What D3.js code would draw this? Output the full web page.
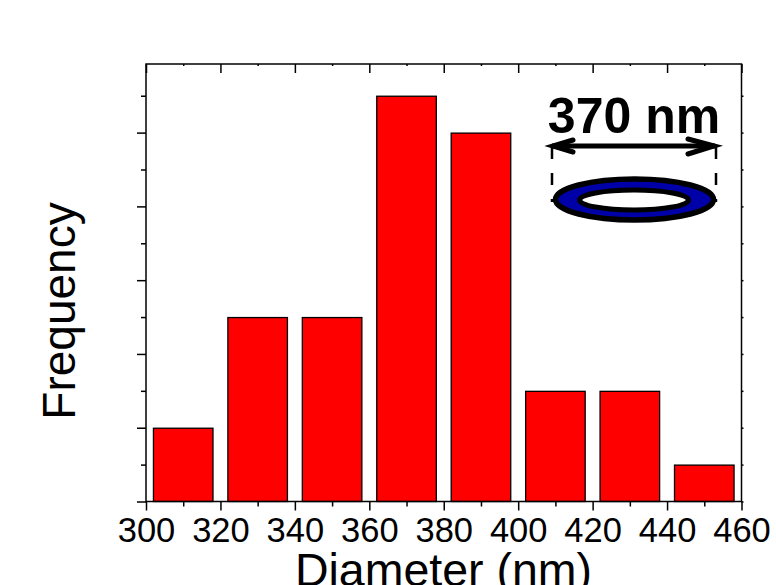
<!DOCTYPE html>
<head>
  <meta charset="utf-8">
<style>
  html, body { margin: 0; padding: 0; background: white; overflow: hidden; }
  svg { display: block; }
  text { font-family: "Liberation Sans", Arial, sans-serif; fill: black; }
</style>
</head>
<body>
  <svg width="776" height="585"></svg>
</body>
<script src="https://d3js.org/d3.v7.min.js"></script>
<script>
// histogram bins
var binCenters = [310, 330, 350, 370, 390, 410, 430, 450];
var counts = [2, 5, 5, 11, 10, 3, 3, 1];
var binWidth = 16;
var xTicks = [300, 320, 340, 360, 380, 400, 420, 440, 460];
var xMinor = [310, 330, 350, 370, 390, 410, 430, 450];
var yTicks = [0, 2, 4, 6, 8, 10];
var yMinor = [1, 3, 5, 7, 9, 11];

var svg = d3.select("svg");
var left = 146, right = 741.5, top_ = 64, bottom = 501.5;

var x = d3.scaleLinear().domain([300, 460]).range([left, right]);
var y = d3.scaleLinear().domain([0, 11.86]).range([bottom, top_]);

// bars
svg.selectAll(".bar")
  .data(counts)
  .enter().append("rect")
  .attr("class", "bar")
  .attr("x", (d, i) => x(binCenters[i] - binWidth / 2))
  .attr("width", x(binWidth) - x(0))
  .attr("y", d => y(d) + 0.5)
  .attr("height", d => y(0) - y(d) - 0.5)
  .attr("fill", "#ff0000")
  .attr("stroke", "black")
  .attr("stroke-width", 1.3);

// frame
svg.append("rect")
  .attr("x", left).attr("y", top_)
  .attr("width", right - left).attr("height", bottom - top_)
  .attr("fill", "none").attr("stroke", "black").attr("stroke-width", 1.5);

function styleAxis(g) {
  g.selectAll("line").attr("stroke", "black").attr("stroke-width", 1.5);
  g.select(".domain").remove();
}

// bottom axis
svg.append("g")
  .attr("transform", `translate(0,${bottom})`)
  .call(d3.axisBottom(x).tickValues(xTicks).tickSize(9).tickPadding(7).tickFormat(d3.format("d")))
  .call(styleAxis)
  .selectAll("text").style("font-size", "34.5px").attr("fill", "black")
  .style("font-family", '"Liberation Sans"');

svg.append("g")
  .attr("transform", `translate(0,${bottom})`)
  .call(d3.axisBottom(x).tickValues(xMinor).tickSize(5).tickFormat(""))
  .call(styleAxis);

// left axis
svg.append("g")
  .attr("transform", `translate(${left},0)`)
  .call(d3.axisLeft(y).tickValues(yTicks).tickSize(9).tickFormat(""))
  .call(styleAxis);

svg.append("g")
  .attr("transform", `translate(${left},0)`)
  .call(d3.axisLeft(y).tickValues(yMinor).tickSize(5).tickFormat(""))
  .call(styleAxis);

// top axis, ticks point inward
svg.append("g")
  .attr("transform", `translate(0,${top_})`)
  .call(d3.axisBottom(x).tickValues(xTicks).tickSize(9).tickFormat(""))
  .call(styleAxis);

svg.append("g")
  .attr("transform", `translate(0,${top_})`)
  .call(d3.axisBottom(x).tickValues(xMinor).tickSize(2).tickFormat(""))
  .call(styleAxis);

// right axis
svg.append("g")
  .attr("transform", `translate(${right},0)`)
  .call(d3.axisRight(y).tickValues(yTicks).tickSize(2).tickFormat(""))
  .call(styleAxis);

svg.append("g")
  .attr("transform", `translate(${right},0)`)
  .call(d3.axisRight(y).tickValues(yMinor).tickSize(2).tickFormat(""))
  .call(styleAxis);

// axis titles
svg.append("text")
  .attr("x", 443.5).attr("y", 586)
  .attr("text-anchor", "middle")
  .style("font-size", "46.5px")
  .text("Diameter (nm)");

svg.append("text")
  .attr("transform", "translate(75,311) rotate(-90)")
  .attr("text-anchor", "middle")
  .style("font-size", "46px")
  .text("Frequency");

// ring inset
var inset = svg.append("g");

inset.append("text")
  .attr("x", 634).attr("y", 133)
  .attr("text-anchor", "middle")
  .style("font-size", "50px")
  .style("font-weight", "bold")
  .text("370 nm");

inset.append("path")
  .attr("d", "M552,146H715")
  .attr("stroke", "black").attr("stroke-width", 5).attr("fill", "none");

inset.append("path")
  .attr("d", "M573,140L553,146L573,152M688,139L714,146L688,154")
  .attr("stroke", "black").attr("stroke-width", 5)
  .attr("stroke-linecap", "round").attr("fill", "none");

inset.append("path")
  .attr("d", "M552,147V202M716,147V202")
  .attr("stroke", "black").attr("stroke-width", 2.5)
  .attr("stroke-dasharray", "12,14").attr("fill", "none");

inset.append("ellipse")
  .attr("cx", 634.5).attr("cy", 199.5).attr("rx", 79).attr("ry", 20.5)
  .attr("fill", "#0000a8").attr("stroke", "black").attr("stroke-width", 5.5);

inset.append("ellipse")
  .attr("cx", 634).attr("cy", 200).attr("rx", 54.5).attr("ry", 10)
  .attr("fill", "white").attr("stroke", "black").attr("stroke-width", 5);
</script>
